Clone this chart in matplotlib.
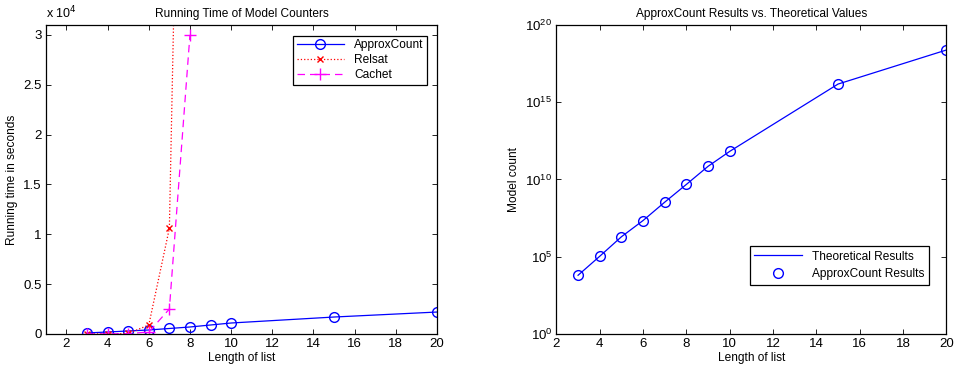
import matplotlib.pyplot as plt
from matplotlib.ticker import FuncFormatter, NullLocator

plt.rcParams['font.family'] = ['Liberation Sans', 'DejaVu Sans']
plt.rcParams['font.size'] = 8.6

# left plot: running time (seconds)
n_approx = [3, 4, 5, 6, 7, 8, 9, 10, 15, 20]
t_approx = [100, 200, 300, 400, 550, 700, 900, 1100, 1700, 2200]
n_relsat = [3, 4, 5, 6, 7, 8]
t_relsat = [0, 10, 50, 900, 10600, 112000]
n_cachet = [3, 4, 5, 6, 7, 8]
t_cachet = [0, 10, 30, 200, 2500, 30000]

# right plot: model counts
n_count = [3, 4, 5, 6, 7, 8, 9, 10, 15, 20]
count_theory = [6.3e3, 1.07e5, 1.95e6, 2.2e7, 3.4e8, 4.8e9, 7.1e10, 6.6e11, 1.5e16, 2.4e18]
count_approx = [6.3e3, 1.07e5, 1.95e6, 2.2e7, 3.4e8, 4.8e9, 7.1e10, 6.6e11, 1.5e16, 2.4e18]

fig = plt.figure(figsize=(9.56, 3.67), dpi=100)
ax1 = fig.add_axes([0.048, 0.090, 0.409, 0.842])
ax2 = fig.add_axes([0.582, 0.090, 0.408, 0.842])

# running time
ax1.plot(n_approx, t_approx, 'o-', color='blue', mfc='none', ms=7, lw=0.9, label='ApproxCount')
ax1.plot(n_relsat, t_relsat, 'x:', color='red', ms=4.5, lw=0.9, label='Relsat')
ax1.plot(n_cachet, t_cachet, '+--', color='magenta', ms=8, lw=0.9, dashes=(6, 4), label='Cachet')
ax1.set_xlim(1, 20)
ax1.set_ylim(0, 31000)
ax1.set_xticks(range(2, 21, 2))
ax1.set_yticks([0, 5000, 10000, 15000, 20000, 25000, 30000])
ax1.yaxis.set_major_formatter(FuncFormatter(lambda v, p: '%g' % (v / 1e4)))
ax1.text(0, 1.012, 'x 10$^{4}$', transform=ax1.transAxes, ha='left', va='bottom', fontsize=9)
ax1.set_title('Running Time of Model Counters', fontsize=8.6, pad=6)
ax1.set_xlabel('Length of list', labelpad=1)
ax1.set_ylabel('Running time in seconds')
ax1.legend(loc='upper right', bbox_to_anchor=(0.99, 0.985), fancybox=False,
           edgecolor='black', framealpha=1, borderpad=0.3, handlelength=4,
           labelspacing=0.25).get_frame().set_linewidth(0.9)

# model count
ax2.semilogy(n_count, count_theory, '-', color='blue', lw=0.9, label='Theoretical Results')
ax2.semilogy(n_count, count_approx, 'o', color='blue', mfc='none', ms=7, label='ApproxCount Results')
ax2.set_xlim(2, 20)
ax2.set_ylim(1, 1e20)
ax2.set_xticks(range(2, 21, 2))
ax2.set_yticks([1, 1e5, 1e10, 1e15, 1e20])
ax2.yaxis.set_minor_locator(NullLocator())
ax2.set_title('ApproxCount Results vs. Theoretical Values', fontsize=8.6, pad=6)
ax2.set_xlabel('Length of list', labelpad=1)
ax2.set_ylabel('Model count')
ax2.legend(loc='lower right', bbox_to_anchor=(0.97, 0.14), fancybox=False,
           edgecolor='black', framealpha=1, borderpad=0.4, handlelength=4,
           labelspacing=0.45).get_frame().set_linewidth(0.9)

for ax in (ax1, ax2):
    ax.tick_params(direction='in', top=True, right=True, length=3.5, width=0.6,
                   pad=3, labelsize=9.5)
    ax.tick_params(which='minor', length=0)
    for s in ax.spines.values():
        s.set_linewidth(0.9)

fig.savefig('out.png', dpi=100)
